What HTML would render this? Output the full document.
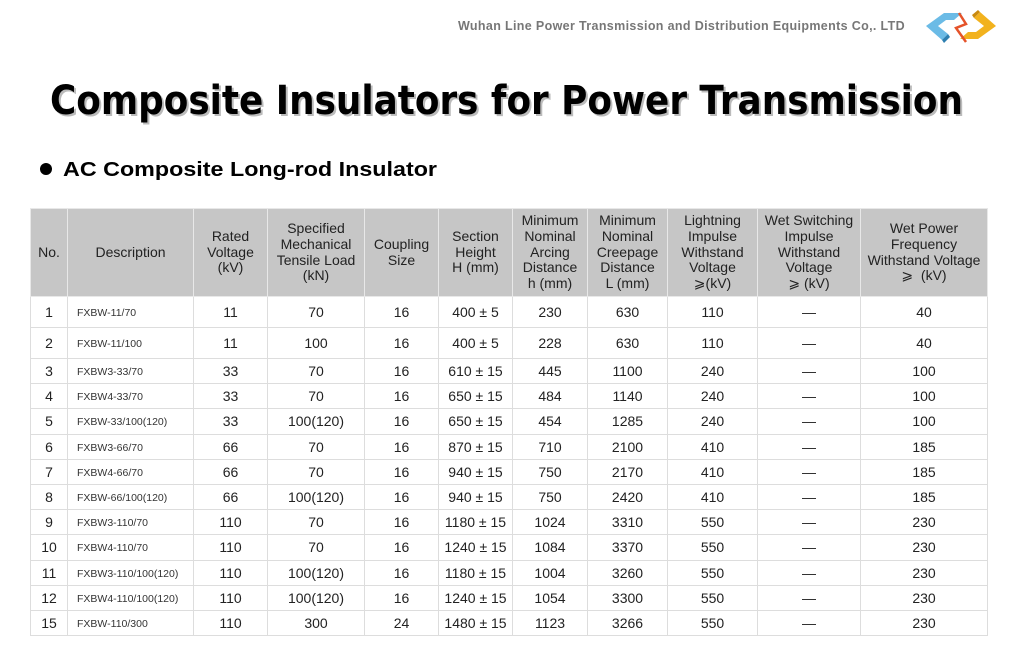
<!DOCTYPE html>
<html><head><meta charset="utf-8"><style>
body{margin:0;width:1011px;height:647px;background:#fff;position:relative;overflow:hidden;font-family:"Liberation Sans",Arial,sans-serif;}
.hdr{position:absolute;left:458px;top:19px;font-size:12.5px;font-weight:bold;color:#777;letter-spacing:0.35px;white-space:nowrap;}
svg.t{position:absolute;left:0;top:0;}
table{position:absolute;left:30px;top:208px;border-collapse:collapse;table-layout:fixed;width:957px;border:1px solid #aaa;}
td,th{border:1px solid #ddd;text-align:center;vertical-align:middle;padding:0;color:#222;font-size:14px;line-height:14px;}
th{background:#c6c6c6;font-weight:normal;line-height:15.8px;height:87px;border-color:#e8e8e8;color:#222;}
td.d{text-align:left;padding-left:9px;font-size:10.5px;color:#333;}
td.d span{position:relative;top:1px;}
tr.a td{height:30px;}
tr.b td{height:24.2px;}
</style></head><body>
<div class="hdr">Wuhan Line Power Transmission and Distribution Equipments Co,. LTD</div>
<svg class="t" width="1011" height="200">
<g transform="translate(926,10)">
<polygon points="0,16 18,3 36,3 28,10 20,10 12,16 22,24 16,30" fill="#6bbbe6"/>
<polygon points="16,30 22,24 24,27 18,33" fill="#2d7fb0"/>
<polygon points="70,16 52,29 34,29 42,22 50,22 58,16 48,8 54,2" fill="#f2b21e"/>
<polygon points="54,2 48,8 46,5 52,0" fill="#c98a10"/>
<polyline points="33,3 40,14 30,18 40,32" fill="none" stroke="#e5532a" stroke-width="2.5"/>
</g>
<text x="50" y="114" font-family="DejaVu Sans,Liberation Sans,sans-serif" font-weight="bold" font-size="40" fill="#bbb" textLength="913" lengthAdjust="spacingAndGlyphs" transform="translate(2,2)">Composite Insulators for Power Transmission</text>
<text x="50" y="114" font-family="DejaVu Sans,Liberation Sans,sans-serif" font-weight="bold" font-size="40" fill="#000" textLength="913" lengthAdjust="spacingAndGlyphs">Composite Insulators for Power Transmission</text>
<circle cx="46" cy="169" r="6" fill="#000"/>
<text x="63" y="176" font-family="Liberation Sans,sans-serif" font-weight="bold" font-size="20" fill="#000" textLength="374" lengthAdjust="spacingAndGlyphs">AC Composite Long-rod Insulator</text>
</svg>
<table>
<colgroup><col style="width:37px"><col style="width:126px"><col style="width:74px"><col style="width:97px"><col style="width:74px"><col style="width:74px"><col style="width:75px"><col style="width:80px"><col style="width:90px"><col style="width:103px"><col style="width:127px"></colgroup>
<tr><th>No.</th><th>Description</th><th>Rated<br>Voltage<br>(kV)</th><th>Specified<br>Mechanical<br>Tensile Load<br>(kN)</th><th>Coupling<br>Size</th><th>Section<br>Height<br>H (mm)</th><th>Minimum<br>Nominal<br>Arcing<br>Distance<br>h (mm)</th><th>Minimum<br>Nominal<br>Creepage<br>Distance<br>L (mm)</th><th>Lightning<br>Impulse<br>Withstand<br>Voltage<br>⩾(kV)</th><th>Wet Switching<br>Impulse<br>Withstand<br>Voltage<br>⩾ (kV)</th><th>Wet Power<br>Frequency<br>Withstand Voltage<br>⩾ &nbsp;(kV)</th></tr>
<tr class="a"><td>1</td><td class="d"><span>FXBW-11/70</span></td><td>11</td><td>70</td><td>16</td><td>400 ± 5</td><td>230</td><td>630</td><td>110</td><td>—</td><td>40</td></tr>
<tr class="a"><td>2</td><td class="d"><span>FXBW-11/100</span></td><td>11</td><td>100</td><td>16</td><td>400 ± 5</td><td>228</td><td>630</td><td>110</td><td>—</td><td>40</td></tr>
<tr class="b"><td>3</td><td class="d"><span>FXBW3-33/70</span></td><td>33</td><td>70</td><td>16</td><td>610 ± 15</td><td>445</td><td>1100</td><td>240</td><td>—</td><td>100</td></tr>
<tr class="b"><td>4</td><td class="d"><span>FXBW4-33/70</span></td><td>33</td><td>70</td><td>16</td><td>650 ± 15</td><td>484</td><td>1140</td><td>240</td><td>—</td><td>100</td></tr>
<tr class="b"><td>5</td><td class="d"><span>FXBW-33/100(120)</span></td><td>33</td><td>100(120)</td><td>16</td><td>650 ± 15</td><td>454</td><td>1285</td><td>240</td><td>—</td><td>100</td></tr>
<tr class="b"><td>6</td><td class="d"><span>FXBW3-66/70</span></td><td>66</td><td>70</td><td>16</td><td>870 ± 15</td><td>710</td><td>2100</td><td>410</td><td>—</td><td>185</td></tr>
<tr class="b"><td>7</td><td class="d"><span>FXBW4-66/70</span></td><td>66</td><td>70</td><td>16</td><td>940 ± 15</td><td>750</td><td>2170</td><td>410</td><td>—</td><td>185</td></tr>
<tr class="b"><td>8</td><td class="d"><span>FXBW-66/100(120)</span></td><td>66</td><td>100(120)</td><td>16</td><td>940 ± 15</td><td>750</td><td>2420</td><td>410</td><td>—</td><td>185</td></tr>
<tr class="b"><td>9</td><td class="d"><span>FXBW3-110/70</span></td><td>110</td><td>70</td><td>16</td><td>1180 ± 15</td><td>1024</td><td>3310</td><td>550</td><td>—</td><td>230</td></tr>
<tr class="b"><td>10</td><td class="d"><span>FXBW4-110/70</span></td><td>110</td><td>70</td><td>16</td><td>1240 ± 15</td><td>1084</td><td>3370</td><td>550</td><td>—</td><td>230</td></tr>
<tr class="b"><td>11</td><td class="d"><span>FXBW3-110/100(120)</span></td><td>110</td><td>100(120)</td><td>16</td><td>1180 ± 15</td><td>1004</td><td>3260</td><td>550</td><td>—</td><td>230</td></tr>
<tr class="b"><td>12</td><td class="d"><span>FXBW4-110/100(120)</span></td><td>110</td><td>100(120)</td><td>16</td><td>1240 ± 15</td><td>1054</td><td>3300</td><td>550</td><td>—</td><td>230</td></tr>
<tr class="b"><td>15</td><td class="d"><span>FXBW-110/300</span></td><td>110</td><td>300</td><td>24</td><td>1480 ± 15</td><td>1123</td><td>3266</td><td>550</td><td>—</td><td>230</td></tr>
</table>
</body></html>
